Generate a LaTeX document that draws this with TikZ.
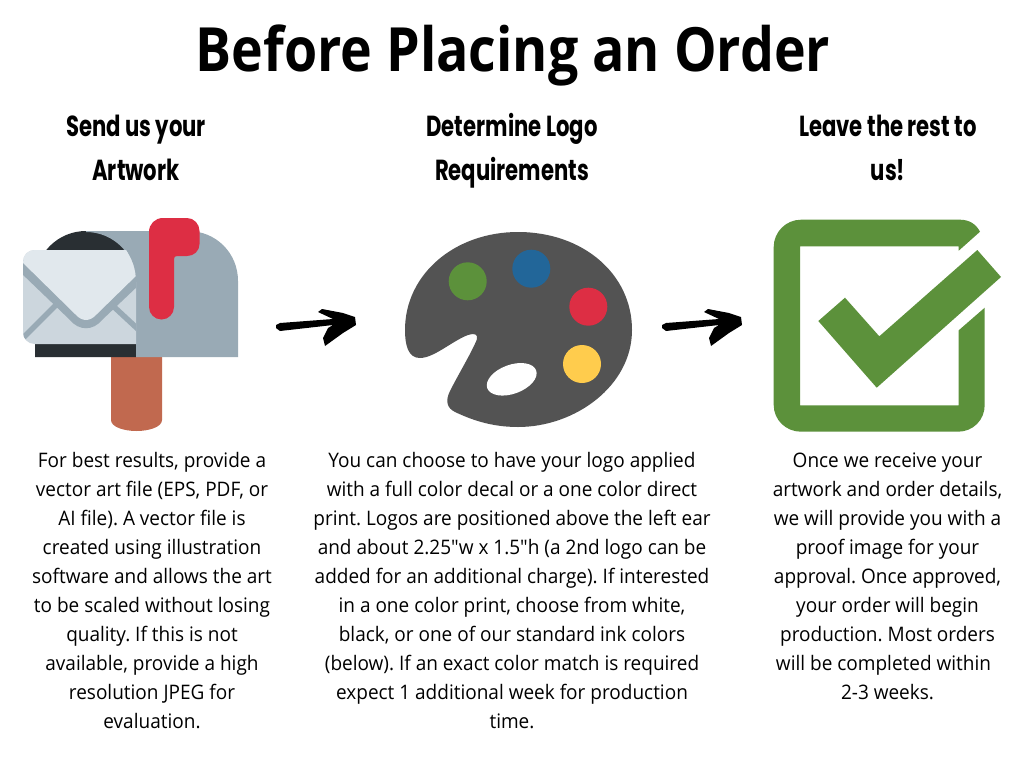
\documentclass[tikz,border=0pt]{standalone}
\usepackage{fontspec}
\newfontfamily\bodyfont[FakeStretch=0.95]{Open Sans}
\newfontfamily\titlefont[FakeStretch=0.88]{Open Sans}
\newfontfamily\headfont[FakeStretch=0.73]{Poppins}
\setmainfont{Open Sans}
\definecolor{mgray}{HTML}{99AAB5}
\definecolor{mdark}{HTML}{292F33}
\definecolor{mflap}{HTML}{E1E8ED}
\definecolor{mlow}{HTML}{CCD6DD}
\definecolor{mred}{HTML}{DD2E44}
\definecolor{mpost}{HTML}{C1694F}
\definecolor{mgreen}{HTML}{5C913B}
\definecolor{mblue}{HTML}{226699}
\definecolor{myellow}{HTML}{FFCC4D}
\definecolor{mpal}{HTML}{535353}
\tikzset{
  titletext/.style={inner sep=0pt,font=\fontsize{61}{61}\selectfont\titlefont\bfseries},
  headtext/.style={inner sep=0pt,anchor=north,align=center,font=\fontsize{29}{44}\selectfont\headfont\bfseries},
  bodytext/.style={inner sep=0pt,anchor=north,align=center,font=\fontsize{20}{28.9}\selectfont\bodyfont\frenchspacing},
  sketcharrow/.pic={\fill[black,line join=round]
    (276,325) -- (280,323) -- (333,319) -- (318,312) -- (322,309) -- (343,313) -- (355,317) -- (356,325)
    -- (343,333) -- (325,346) -- (323,338) -- (328,328) -- (333,325) -- (280,331) -- (276,328) -- cycle;}
}
\newcommand{\headstrut}{\rule{0pt}{30pt}}
\newcommand{\bodystrut}{\rule{0pt}{20pt}}
\begin{document}
\begin{tikzpicture}[x=1pt,y=-1pt]
\useasboundingbox (0,0) rectangle (1024,768);
\fill[white] (0,0) rectangle (1024,768);
% title
\node[titletext] (title) at (513,55) {Before Placing an Order};
% headings
\node[headtext] (h1) at (136,106) {\headstrut Send us your\\Artwork};
\node[headtext] (h2) at (512,106) {\headstrut Determine Logo\\Requirements};
\node[headtext] (h3) at (888,106) {\headstrut Leave the rest to\\us!};
% mailbox
\fill[mpost] (111,350) -- (162,350) -- (162,420) .. controls (162,427) and (149,431) .. (136.5,431) .. controls (124,431) and (111,427) .. (111,420) -- cycle;
\fill[mdark] (35,357) -- (35,282) arc[start angle=180,end angle=270,radius=51] -- (136,231) -- (136,357) -- cycle;
\fill[mgray] (86,231) -- (188,231) .. controls (216,231) and (238,253) .. (238,281) -- (238,357) -- (136,357) -- (136,282) arc[start angle=0,end angle=-90,radius=50] -- cycle;
\fill[mlow] (35,250) -- (126,250) .. controls (131,258) and (136,268) .. (136,282) -- (136,344) -- (35,344) .. controls (28,344) and (23,339) .. (23,332) -- (23,262) .. controls (23,255) and (28,250) .. (35,250) -- cycle;
\begin{scope}
\clip (35,250) -- (126,250) .. controls (131,258) and (136,268) .. (136,282) -- (136,344) -- (35,344) .. controls (28,344) and (23,339) .. (23,332) -- (23,262) .. controls (23,255) and (28,250) .. (35,250) -- cycle;
\draw[mgray,line width=5.5pt] (20,341) -- (56,305);
\draw[mgray,line width=5.5pt] (112,305) -- (140,331);
\fill[mgray] (20,260) -- (20,272) -- (70,320) .. controls (79,331) and (93,331) .. (102,320) -- (140,284) -- (140,270) -- cycle;
\fill[mflap] (18,250) -- (140,250) -- (140,272) -- (97,314) .. controls (90,322) and (82,322) .. (75,314) -- (18,258) -- cycle;
\end{scope}
\fill[mred] (149,307) -- (149,232) .. controls (149,224) and (155,218) .. (163,218) -- (187,218) .. controls (194,218) and (199.5,224) .. (199.5,231) -- (199.5,244) .. controls (199.5,251) and (194,256) .. (187,256) -- (177,256) .. controls (175,256) and (174,257) .. (174,259) -- (174,307) arc[start angle=0,end angle=180,radius=12.5] -- cycle;
% arrows
\pic at (0,0) {sketcharrow};
\pic at (386,0) {sketcharrow};
% palette
\fill[mpal,even odd rule] (518,232) .. controls (583,232) and (632,274) .. (632,330)
  .. controls (632,386) and (575,427) .. (518,427)
  .. controls (490,427) and (470,419) .. (455,412)
  .. controls (447,408) and (445,401) .. (450,391)
  .. controls (458,375) and (473,350) .. (477,339)
  .. controls (478,334) and (474,333) .. (468,335)
  .. controls (452,341) and (434,358) .. (420,358)
  .. controls (408,358) and (405,345) .. (405,330)
  .. controls (405,274) and (455,232) .. (518,232) -- cycle;
\fill[white,rotate around={20:(511.7,379.3)}] (511.7,379.3) ellipse[x radius=26,y radius=14.5];
\fill[mgreen] (467.7,281.3) circle[radius=19];
\fill[mblue] (531.3,268.7) circle[radius=19];
\fill[mred] (588.3,306.7) circle[radius=19];
\fill[myellow] (582,364) circle[radius=19];
% checkbox
\fill[mgreen,even odd rule] (801,219.7) -- (960,219.7) .. controls (969,219.7) and (976,224) .. (980,231.7) -- (958.7,250.7) -- (958.7,246.3) -- (800,246.3) -- (800,405.3) -- (958.7,405.3) -- (958.7,330.3) -- (984.7,307.7) -- (984.7,405) .. controls (984.7,420) and (973,431.7) .. (958,431.7) -- (801,431.7) .. controls (786,431.7) and (773.7,420) .. (773.7,405) -- (773.7,247) .. controls (773.7,232) and (786,219.7) .. (801,219.7) -- cycle;
\fill[mgreen] (818.3,321) -- (845,297.7) -- (879.3,336.3) -- (977.3,250) -- (1001,277) -- (876.7,387.7) -- cycle;
% body
\node[bodytext] (b1) at (152,447.7) {\bodystrut For best results, provide a\\vector art file (EPS, PDF, or\\AI file). A vector file is\\created using illustration\\software and allows the art\\to be scaled without losing\\quality. If this is not\\available, provide a high\\resolution JPEG for\\evaluation.};
\node[bodytext] (b2) at (512,447.7) {\bodystrut You can choose to have your logo applied\\with a full color decal or a one color direct\\print. Logos are positioned above the left ear\\and about 2.25"w x 1.5"h (a 2nd logo can be\\added for an additional charge). If interested\\in a one color print, choose from white,\\black, or one of our standard ink colors\\(below). If an exact color match is required\\expect 1 additional week for production\\time.};
\node[bodytext] (b3) at (887.5,447.7) {\bodystrut Once we receive your\\artwork and order details,\\we will provide you with a\\proof image for your\\approval. Once approved,\\your order will begin\\production. Most orders\\will be completed within\rule{8pt}{0pt}\\2-3 weeks.};
\end{tikzpicture}
\end{document}
